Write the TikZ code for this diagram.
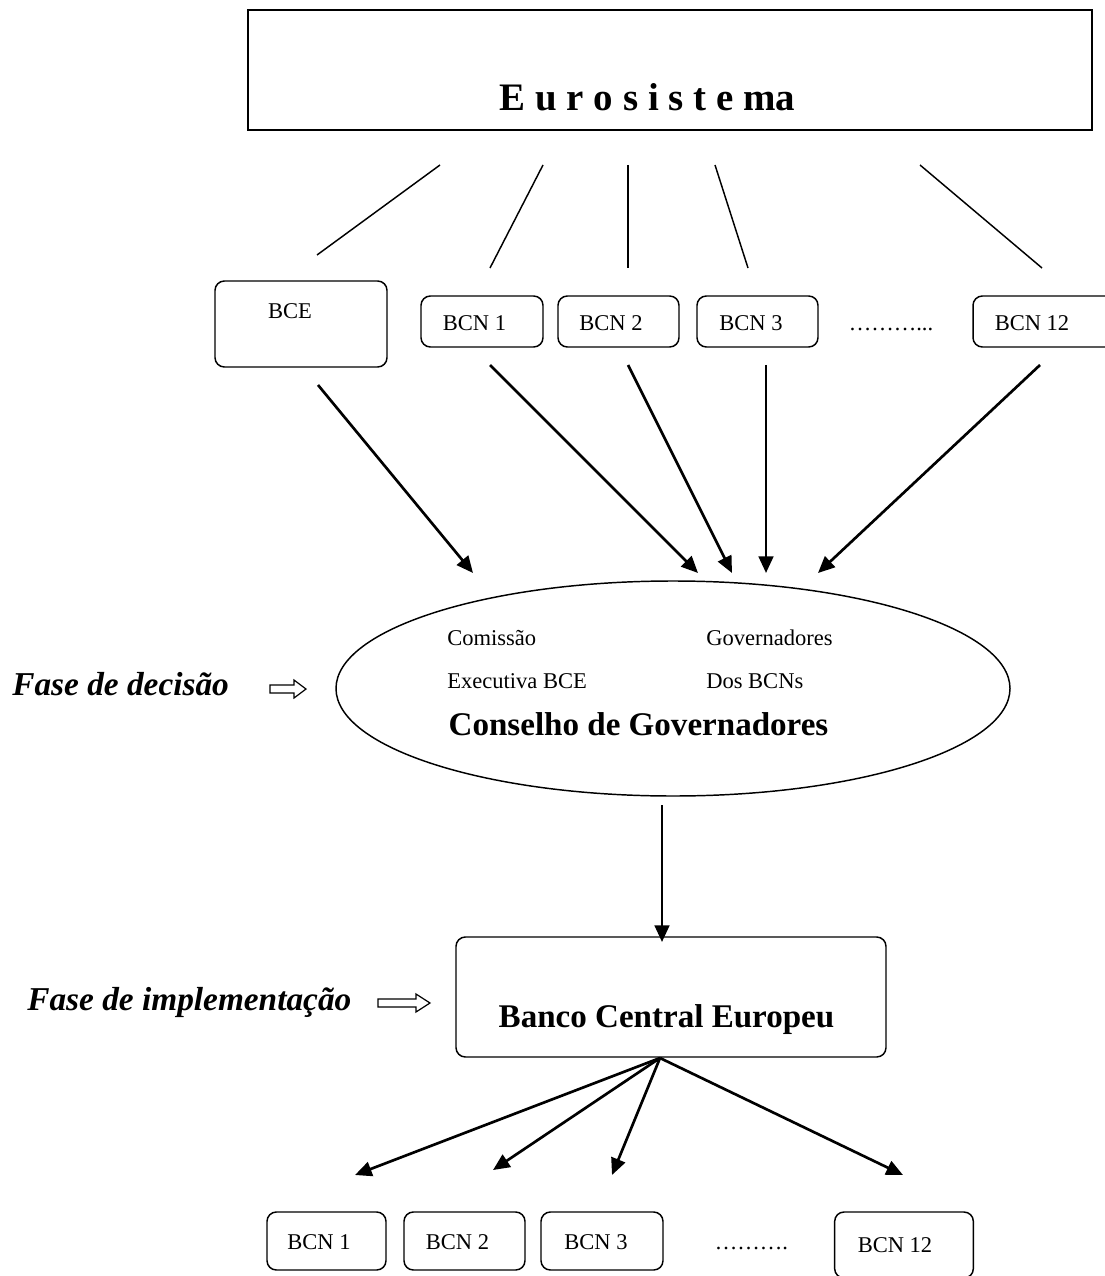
\documentclass[tikz,border=0pt]{standalone}
\usepackage{fontspec}
\setmainfont{Liberation Serif}
\usetikzlibrary{arrows.meta,shapes.geometric}
\begin{document}
\begin{tikzpicture}[x=0.75pt,y=-0.75pt,
  box/.style={draw, line width=1.1pt, rounded corners=7pt, inner sep=0pt},
  txt/.style={inner sep=0pt, anchor=base, font=\fontsize{16.9pt}{18pt}\selectfont},
  ltxt/.style={txt, anchor=base west},
  big/.style={inner sep=0pt, anchor=base, font=\fontsize{24.8pt}{28pt}\selectfont\bfseries},
  phase/.style={inner sep=0pt, anchor=base west, font=\fontsize{25pt}{28pt}\selectfont\bfseries\itshape},
  thinline/.style={line width=1.1pt},
  arr/.style={line width=2pt, -{Triangle[length=12.5pt,width=11pt]}},
  hollow/.style={draw, line width=0.9pt, fill=white, line join=miter}
]
\useasboundingbox (0,0) rectangle (1104,1276);

% Eurosistema
\node[draw, line width=1.5pt, inner sep=0pt, minimum width=633pt, minimum height=90pt] (euro) at (670,70) {};
\node[inner sep=0pt, anchor=base, font=\fontsize{29.2pt}{32pt}\selectfont\bfseries] (eurotxt) at (647.5,111) {E u r o s i s t e ma};

% top row boxes
\node[box, minimum width=129pt, minimum height=64.5pt] (bce) at (301,324) {};
\node[txt] (bcetxt) at (290,319) {BCE};
\node[box, minimum width=91.5pt, minimum height=38.25pt] (t1) at (482,321.5) {};
\node[txt] (t1txt) at (474.5,331) {BCN 1};
\node[box, minimum width=90.75pt, minimum height=38.25pt] (t2) at (618.5,321.5) {};
\node[txt] (t2txt) at (611,331) {BCN 2};
\node[box, minimum width=90.75pt, minimum height=38.25pt] (t3) at (757.5,321.5) {};
\node[txt] (t3txt) at (751,331) {BCN 3};
\node[txt] (tdots) at (891,331) {………...};
\node[box, minimum width=106.5pt, minimum height=38.25pt] (t12) at (1044,321.5) {};
\node[txt] (t12txt) at (1032,331) {BCN 12};

% thin lines from Eurosistema
\coordinate (l1a) at (440,165); \coordinate (l1b) at (317,255);
\coordinate (l2a) at (543,165); \coordinate (l2b) at (490,268);
\coordinate (l3a) at (628,165); \coordinate (l3b) at (628,268);
\coordinate (l4a) at (715,165); \coordinate (l4b) at (748,268);
\coordinate (l5a) at (920,165); \coordinate (l5b) at (1042,268);
\draw[thinline] (l1a) -- (l1b);
\draw[thinline] (l2a) -- (l2b);
\draw[thinline] (l3a) -- (l3b);
\draw[thinline] (l4a) -- (l4b);
\draw[thinline] (l5a) -- (l5b);

% ellipse
\node[draw, ellipse, line width=1.1pt, inner sep=0pt, minimum width=505.5pt, minimum height=161.25pt] (cg) at (673,688.5) {};
\node[ltxt] (com) at (447,645) {Comissão};
\node[ltxt] (exe) at (447,688) {Executiva BCE};
\node[ltxt] (gov) at (706,645) {Governadores};
\node[ltxt] (dos) at (706,688) {Dos BCNs};
\node[big] (cgtxt) at (638.5,735) {Conselho de Governadores};

% arrows to ellipse
\coordinate (a1s) at (318,385);  \coordinate (a1e) at (473,573);
\coordinate (a2s) at (490,365);  \coordinate (a2e) at (698,573);
\coordinate (a3s) at (628,365);  \coordinate (a3e) at (732,573);
\coordinate (a4s) at (766,365);  \coordinate (a4e) at (766,573);
\coordinate (a5s) at (1040,365); \coordinate (a5e) at (818,573);
\draw[arr] (a1s) -- (a1e);
\draw[arr] (a2s) -- (a2e);
\draw[arr] (a3s) -- (a3e);
\draw[arr] (a4s) -- (a4e);
\draw[arr] (a5s) -- (a5e);

% Fase de decisao
\node[phase] (fd) at (12,695) {Fase de decisão};
\draw[hollow] (270,685) -- (294,685) -- (294,680) -- (306,689) -- (294,698) -- (294,693) -- (270,693) -- cycle;

% vertical arrow
\coordinate (vs) at (662,805); \coordinate (ve) at (662,942);
\draw[arr] (vs) -- (ve);

% Banco Central Europeu
\node[box, minimum width=322.5pt, minimum height=90pt] (bce2) at (671,997) {};
\node[big] (bce2txt) at (666.5,1027) {Banco Central Europeu};

\node[phase] (fi) at (27,1010) {Fase de implementação};
\draw[hollow] (378,999) -- (416,999) -- (416,994) -- (430,1003) -- (416,1012) -- (416,1007) -- (378,1007) -- cycle;

% bottom arrows
\coordinate (bo) at (660,1058);
\coordinate (b1e) at (355,1175);
\coordinate (b2e) at (493,1170);
\coordinate (b3e) at (612,1175);
\coordinate (b4e) at (903,1175);
\draw[arr] (bo) -- (b1e);
\draw[arr] (bo) -- (b2e);
\draw[arr] (bo) -- (b3e);
\draw[arr] (bo) -- (b4e);

% bottom boxes
\node[box, minimum width=89.25pt, minimum height=43.5pt] (u1) at (326.5,1241) {};
\node[txt] (u1txt) at (319,1249) {BCN 1};
\node[box, minimum width=90.75pt, minimum height=43.5pt] (u2) at (464.5,1241) {};
\node[txt] (u2txt) at (457.5,1249) {BCN 2};
\node[box, minimum width=91.5pt, minimum height=43.5pt] (u3) at (602,1241) {};
\node[txt] (u3txt) at (596,1249) {BCN 3};
\node[txt] (udots) at (751.5,1249) {……….};
\node[box, minimum width=104pt, minimum height=49.5pt] (u12) at (904,1245) {};
\node[txt] (u12txt) at (895,1252) {BCN 12};
\end{tikzpicture}
\end{document}
